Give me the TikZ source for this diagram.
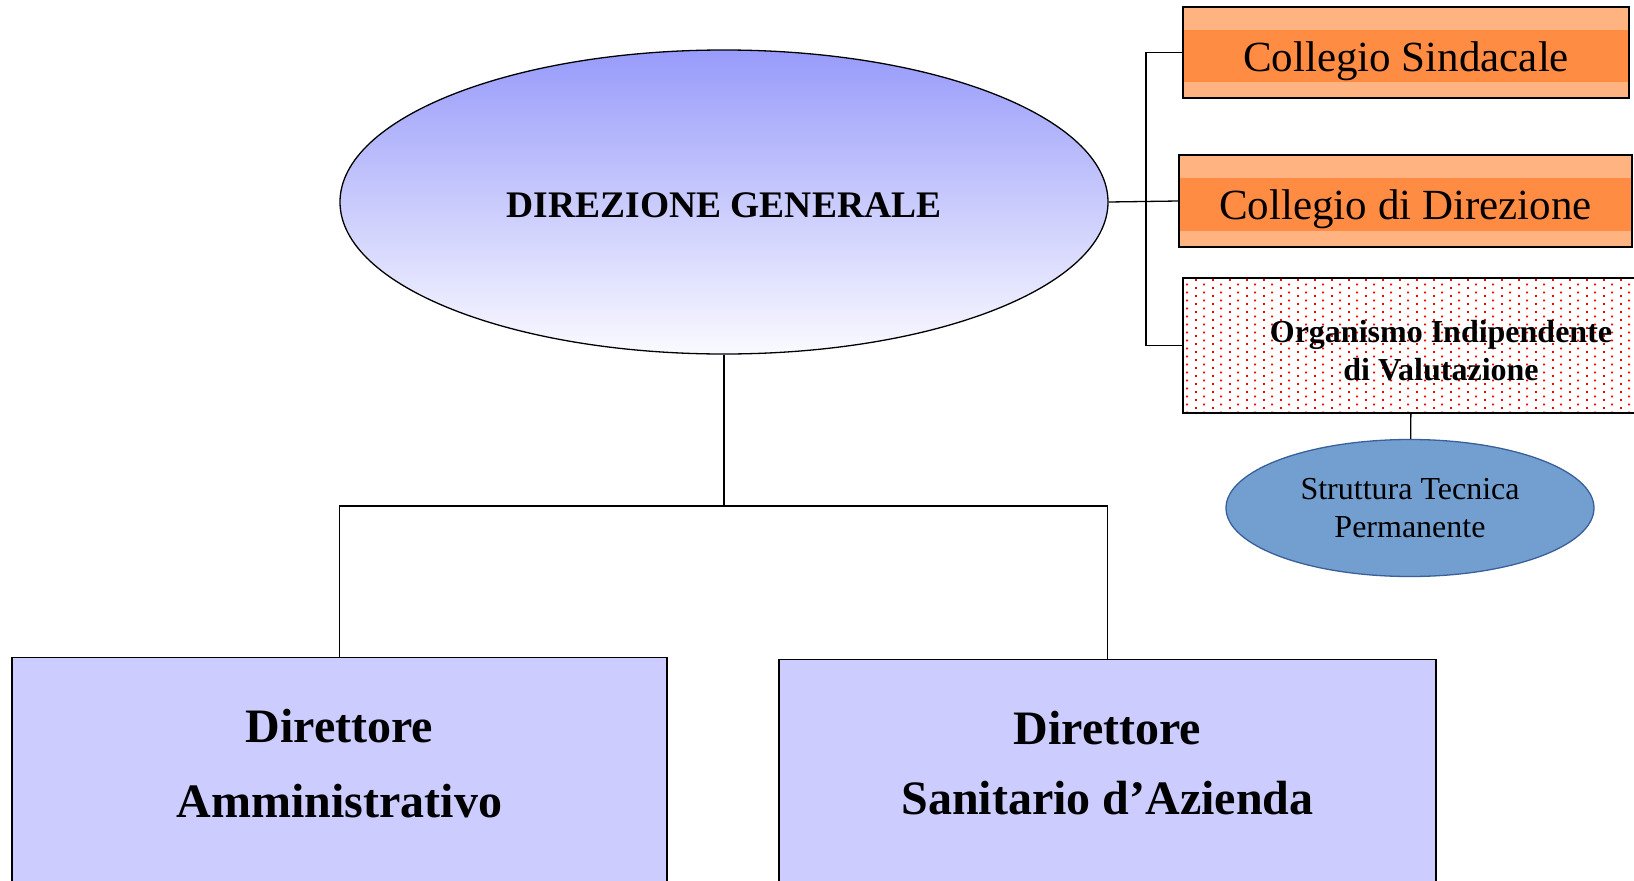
\documentclass[tikz,border=0pt]{standalone}
\usepackage{fontspec}
\setmainfont{Liberation Serif}
\usetikzlibrary{shapes.geometric,patterns}
\definecolor{dgtop}{RGB}{152,155,250}
\definecolor{dgbot}{RGB}{250,250,255}
\definecolor{orlight}{RGB}{255,179,128}
\definecolor{ordark}{RGB}{255,140,66}
\definecolor{dirfill}{RGB}{204,204,255}
\definecolor{stpfill}{RGB}{114,159,207}
\definecolor{stpline}{RGB}{58,96,155}
\pgfdeclarepatternformonly{oivdots}{\pgfpointorigin}{\pgfpoint{16.6pt}{8pt}}{\pgfpoint{16.6pt}{8pt}}{%
\pgfpathrectangle{\pgfpoint{0pt}{0pt}}{\pgfpoint{2pt}{2pt}}%
\pgfpathrectangle{\pgfpoint{8.3pt}{4pt}}{\pgfpoint{2pt}{2pt}}%
\pgfusepath{fill}}
\begin{document}
\begin{tikzpicture}[x=1pt,y=-1pt,line width=1.3pt,
box/.style={draw,rectangle,inner sep=0pt},
orbox/.style={box,fill=orlight,font={\fontsize{43}{52}\selectfont},text height=37pt,text depth=0pt,
path picture={\fill[ordark] ([yshift=-23pt]path picture bounding box.north west)
rectangle ([yshift=16pt]path picture bounding box.south east);}},
dirbox/.style={box,fill=dirfill,minimum height=260,anchor=north},
dirtext/.style={align=center,font={\fontsize{48}{75}\selectfont\bfseries}}]
\useasboundingbox (0,0) rectangle (1634,881);
\clip (0,0) rectangle (1634,881);
\node[draw,ellipse,inner sep=0pt,minimum width=768,minimum height=304,
top color=dgtop,bottom color=dgbot,font={\fontsize{37.5}{45}\selectfont\bfseries},
text height=30pt,text depth=0pt]
(dg) at (724,202) {DIREZIONE GENERALE};
\node[orbox,minimum width=446,minimum height=91] (cs) at (1406,52.5) {Collegio Sindacale};
\node[orbox,minimum width=453,minimum height=92] (cd) at (1405.5,201) {Collegio di Direzione};
\node[box,pattern=oivdots,pattern color=red,minimum width=457,minimum height=135]
(oiv) at (1411.5,345.5) {};
\node[align=center,font={\fontsize{32}{38}\selectfont\bfseries}]
(oivtxt) at (1441,351) {Organismo Indipendente\\di Valutazione};
\node[draw=stpline,fill=stpfill,ellipse,inner sep=0pt,minimum width=368,minimum height=137,
align=center,font={\fontsize{32}{38}\selectfont}]
(stp) at (1410,508) {Struttura Tecnica\\Permanente};
\node[dirbox,minimum width=655] (da) at (339.5,657) {};
\node[dirtext] (datxt) at (339.5,763.5) {Direttore\\Amministrativo};
\node[dirbox,minimum width=657] (ds) at (1107.5,659) {};
\node[dirtext,font={\fontsize{48}{70}\selectfont\bfseries}]
(dstxt) at (1107.5,763) {Direttore\\Sanitario d’Azienda};
\coordinate (fork) at (724,506);
\coordinate (bus) at (1146,0);
\draw (dg.south) -- (fork);
\draw (da.north) |- (fork) -| (ds.north);
\draw (dg.east) -- (cd.west);
\draw (cs.west) -| (bus |- oiv.west) -- (oiv.west);
\draw (oiv) -- (stp);
\end{tikzpicture}
\end{document}
